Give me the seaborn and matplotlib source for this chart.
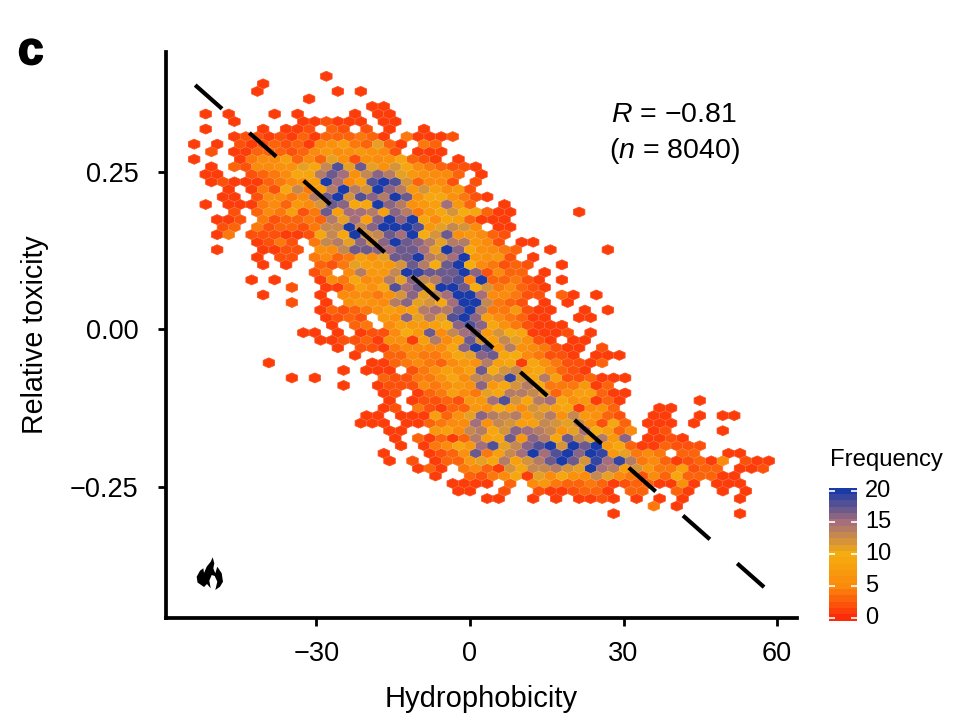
"""Relative toxicity vs hydrophobicity, hexagonal binned frequency (panel c)."""
import matplotlib
matplotlib.use("Agg")
import matplotlib.patheffects as pe
import matplotlib.pyplot as plt
import numpy as np
import seaborn as sns
from matplotlib.patches import Polygon
from matplotlib.transforms import ScaledTranslation

# hex grid: row k runs top to bottom, column c counts half hexagons (c + k is even)
X_ORIGIN = -28.07
X_HALF_STEP = 1.1227
Y_ORIGIN = 0.4019
Y_ROW_STEP = 0.01197

# first column of every row, then the counts of that row every second column
first_col = [
    0, -11, -12, -3, 8, -21, -16, -21, -16, -23,
    -20, -23, -20, -21, -20, -17, -18, -21, -16, -19,
    -18, -19, -12, -19, -12, -11, -2, -13, -6, -11,
    -6, -1, 0, 1, -4, -1, 2, 5, -10, 3,
    -6, 3, 10, 11, 10, 7, 6, 11, 12, 13,
    10, 11, 16, 19, 22, 23, 28, 57, 50,
]
counts_by_row = [
    [1],
    [1],
    [1, 0, 0, 0, 0, 0, 0, 1, 0, 1],
    [1],
    [1, 1],
    [1, 0, 1, 0, 0, 0, 1, 0, 1, 0, 0, 0, 0, 1, 0, 1, 1],
    [1, 0, 0, 0, 0, 0, 1, 1, 2, 1, 1, 1, 0, 1, 1],
    [1, 0, 0, 0, 0, 1, 0, 1, 1, 2, 0, 3, 2, 0, 2, 0, 1, 0, 0, 1],
    [1, 2, 2, 1, 2, 1, 3, 1, 3, 3, 3, 4, 3, 1, 0, 4, 1, 1, 1, 2],
    [1, 0, 1, 0, 2, 1, 2, 3, 2, 3, 1, 5, 6, 8, 4, 3, 11, 3, 1, 0, 4, 3],
    [2, 0, 1, 1, 3, 3, 3, 2, 3, 5, 7, 5, 6, 7, 6, 5, 2, 0, 1, 1, 1],
    [1, 0, 0, 0, 1, 4, 5, 5, 8, 3, 5, 3, 11, 6, 2, 6, 5, 6, 9, 3, 2, 1, 0, 1],
    [1, 0, 3, 2, 5, 5, 6, 6, 11, 9, 13, 18, 11, 17, 11, 6, 12, 9, 5, 4, 3, 2, 2, 1],
    [1, 1, 0, 0, 2, 3, 4, 5, 9, 9, 14, 17, 15, 6, 13, 16, 14, 11, 7, 6, 5, 5, 3, 0, 1],
    [1, 2, 1, 1, 1, 3, 4, 5, 6, 8, 20, 15, 5, 8, 18, 20, 18, 12, 3, 5, 5, 2, 0, 2],
    [1, 0, 1, 4, 2, 9, 13, 4, 8, 14, 20, 14, 12, 20, 16, 14, 7, 12, 8, 5, 7, 2],
    [1, 1, 0, 2, 5, 5, 4, 5, 14, 17, 20, 12, 18, 16, 14, 20, 17, 6, 9, 9, 6, 4, 2, 1],
    [1, 0, 1, 1, 1, 4, 5, 3, 7, 5, 12, 17, 16, 9, 9, 20, 16, 14, 6, 7, 8, 15, 7, 3, 0, 0, 1],
    [2, 0, 3, 5, 4, 8, 2, 4, 17, 8, 15, 15, 14, 8, 16, 14, 4, 7, 9, 12, 10, 9, 3, 1, 1,
     0, 0, 0, 0, 0, 1],
    [1, 1, 2, 0, 4, 2, 3, 3, 4, 3, 14, 11, 15, 8, 16, 20, 16, 20, 9, 5, 9, 8, 3, 1, 1, 1],
    [2, 3, 0, 4, 2, 3, 3, 2, 4, 13, 13, 20, 13, 16, 20, 20, 20, 18, 7, 11, 13, 12, 5, 0, 1, 1],
    [1, 4, 0, 2, 2, 2, 1, 1, 2, 9, 13, 9, 20, 12, 13, 17, 15, 20, 10, 12, 17, 6, 7, 5, 3, 2],
    [1, 2, 4, 2, 0, 4, 13, 14, 11, 16, 12, 16, 20, 17, 16, 14, 11, 14, 14, 7, 5, 2, 0, 1, 1],
    [1, 0, 0, 0, 1, 1, 2, 2, 0, 6, 5, 13, 17, 17, 16, 15, 17, 17, 15, 11, 20, 16, 9, 6, 5,
     4, 3, 0, 0, 1, 0, 0, 0, 0, 1],
    [1, 0, 2, 2, 0, 4, 5, 3, 4, 8, 6, 11, 17, 17, 20, 14, 13, 15, 20, 7, 6, 7, 2, 0, 1],
    [1, 0, 1, 0, 0, 3, 2, 4, 11, 8, 7, 7, 12, 17, 14, 10, 17, 20, 10, 5, 4, 2, 3, 2, 0, 0, 1],
    [2, 4, 0, 5, 14, 7, 7, 13, 20, 19, 17, 17, 17, 20, 16, 2, 5, 3, 3, 0, 1],
    [1, 0, 1, 0, 0, 0, 1, 5, 4, 9, 5, 6, 14, 11, 16, 13, 14, 17, 18, 5, 20, 3, 3, 4, 2, 1, 0, 1],
    [2, 0, 0, 1, 1, 4, 8, 6, 9, 18, 15, 17, 9, 20, 20, 17, 10, 12, 4, 5, 3, 2, 1],
    [1, 0, 0, 0, 0, 1, 0, 5, 5, 5, 4, 6, 12, 16, 11, 13, 15, 20, 20, 15, 5, 5, 4, 2, 2, 0, 3,
     1, 0, 1],
    [2, 0, 0, 1, 0, 6, 7, 6, 5, 14, 16, 11, 12, 9, 15, 20, 20, 13, 4, 3, 2, 0, 1, 0, 1],
    [1, 3, 2, 3, 4, 6, 8, 7, 8, 14, 15, 14, 17, 20, 14, 4, 4, 7, 2, 1, 1, 0, 0, 1, 0, 1],
    [1, 2, 3, 2, 0, 7, 6, 16, 11, 14, 11, 18, 20, 16, 8, 5, 4, 3, 1, 1, 0, 0, 1, 1],
    [1, 0, 3, 4, 0, 5, 8, 7, 7, 8, 10, 16, 18, 16, 9, 6, 4, 2, 1, 1, 1],
    [1, 1, 0, 1, 0, 1, 2, 2, 5, 10, 7, 17, 5, 13, 15, 16, 7, 12, 10, 9, 1, 1, 1, 2, 0, 1],
    [1, 1, 2, 2, 3, 1, 6, 6, 1, 8, 14, 5, 8, 17, 12, 8, 13, 11, 6, 2, 1, 0, 1, 1],
    [1, 0, 2, 2, 1, 4, 5, 5, 5, 5, 9, 16, 20, 18, 7, 14, 6, 5, 4, 2, 1, 1, 0, 2],
    [1, 0, 0, 3, 3, 5, 4, 4, 6, 9, 11, 16, 17, 9, 10, 5, 4, 2, 2, 1, 0, 1, 1, 1],
    [1, 0, 0, 0, 0, 0, 0, 0, 0, 1, 1, 3, 4, 5, 4, 3, 5, 7, 6, 14, 8, 9, 1, 9, 6, 4, 2, 2, 1, 3],
    [1, 0, 1, 1, 1, 0, 2, 4, 6, 8, 6, 8, 17, 10, 12, 13, 8, 9, 5, 3, 2, 1],
    [1, 0, 1, 0, 0, 0, 0, 0, 3, 2, 2, 4, 4, 6, 9, 5, 13, 13, 13, 19, 12, 9, 14, 8, 2, 2, 3, 1, 1, 1],
    [1, 0, 0, 1, 2, 2, 2, 5, 4, 5, 7, 6, 16, 7, 9, 12, 14, 10, 4, 4, 4, 7, 1, 3],
    [1, 2, 0, 1, 3, 4, 8, 5, 4, 11, 9, 14, 14, 13, 11, 3, 5, 8, 8, 3, 1, 1],
    [1, 0, 1, 2, 2, 3, 2, 7, 7, 15, 18, 12, 9, 14, 15, 9, 6, 7, 1, 3, 1, 0, 0, 0, 0, 0, 0, 1],
    [1, 2, 0, 4, 2, 1, 3, 3, 7, 6, 10, 8, 5, 12, 11, 8, 9, 1, 5, 6, 3, 0, 0, 0, 1, 1],
    [1, 1, 0, 1, 1, 1, 8, 3, 6, 11, 16, 14, 13, 14, 7, 12, 14, 6, 13, 7, 6, 3, 2, 0, 0, 1, 1,
     0, 0, 1, 0, 1, 1],
    [1, 1, 1, 0, 1, 1, 3, 4, 5, 5, 15, 6, 13, 12, 8, 8, 13, 12, 11, 13, 6, 2, 9, 3, 0, 1, 1, 1, 0, 1],
    [1, 1, 0, 0, 7, 8, 5, 13, 14, 9, 12, 16, 15, 14, 13, 6, 11, 15, 10, 8, 3, 5, 0, 1, 2,
     0, 0, 0, 0, 1],
    [1, 0, 3, 1, 3, 1, 3, 14, 8, 9, 17, 7, 16, 14, 9, 17, 13, 11, 14, 7, 16, 0, 1, 1, 2, 1],
    [1, 0, 1, 4, 5, 9, 7, 15, 18, 11, 13, 16, 18, 20, 12, 20, 17, 20, 7, 9, 3, 1, 1, 3, 2, 2, 2],
    [1, 0, 0, 0, 1, 2, 3, 6, 17, 4, 8, 13, 15, 20, 15, 18, 20, 16, 20, 19, 7, 11, 4, 5, 4, 0, 3, 3,
     0, 0, 1, 1],
    [1, 0, 2, 0, 1, 3, 3, 7, 11, 9, 14, 8, 12, 14, 17, 20, 17, 12, 19, 15, 19, 14, 4, 5, 3, 1, 2, 3,
     1, 5, 0, 2, 1, 1],
    [1, 3, 1, 0, 4, 5, 3, 1, 12, 9, 13, 13, 14, 12, 11, 20, 15, 14, 8, 12, 7, 4, 4, 8, 2, 3, 3,
     0, 1, 1, 2],
    [1, 0, 0, 3, 2, 4, 5, 9, 1, 11, 5, 9, 6, 5, 13, 11, 5, 4, 2, 5, 3, 9, 3, 3, 3, 1, 1],
    [1, 1, 1, 1, 0, 3, 0, 5, 7, 4, 3, 3, 4, 3, 1, 2, 3, 3, 1, 1, 6, 1, 0, 1, 1, 1],
    [1, 1, 0, 0, 2, 0, 0, 2, 1, 1, 2, 3, 3, 1, 0, 3, 3, 0, 0, 3, 1, 0, 0, 1, 0, 1],
    [1, 1, 0, 0, 1, 0, 1, 0, 1, 1, 2, 1, 0, 1, 0, 1, 0, 1, 0, 0, 0, 0, 1],
    [4, 0, 1],
    [1, 0, 0, 0, 0, 0, 0, 0, 0, 0, 0, 1],
]

x_ticks = [-30, 0, 30, 60]
y_ticks = [-0.25, 0.0, 0.25]
y_tick_labels = ["\u22120.25", "0.00", "0.25"]
legend_ticks = [0, 5, 10, 15, 20]

# fitted line, ends
line_x = [-53.7, 57.6]
line_y = [0.388, -0.41]

# colours at 0, 5, 10, 15, 20
scale_colors = ["#FC2B0A", "#FA8B0C", "#F5AC0E", "#A6707A", "#1A3AA8"]

W, H = 964, 726


def fig_box(left, top, right, bottom):
    return [left / W, 1 - bottom / H, (right - left) / W, (bottom - top) / H]


sns.set_theme(style="ticks")
plt.rcParams["font.family"] = ["Liberation Sans", "DejaVu Sans"]
plt.rcParams["text.color"] = "black"
plt.rcParams["mathtext.fontset"] = "custom"
plt.rcParams["mathtext.rm"] = "Liberation Sans"
plt.rcParams["mathtext.it"] = "Liberation Sans:italic"

cmap = sns.blend_palette(scale_colors, as_cmap=True)

xs, ys, cs = [], [], []
for k, (c0, row) in enumerate(zip(first_col, counts_by_row)):
    for i, v in enumerate(row):
        if v > 0:
            xs.append(X_ORIGIN + (c0 + 2 * i) * X_HALF_STEP)
            ys.append(Y_ORIGIN - k * Y_ROW_STEP)
            cs.append(v)

fig = plt.figure(figsize=(W / 100, H / 100), dpi=100, facecolor="white")
ax = fig.add_axes(fig_box(165.5, 52, 797, 618))

hex_args = dict(
    C=cs,
    gridsize=(51, 29),
    extent=(X_ORIGIN - 24 * X_HALF_STEP, X_ORIGIN + 78 * X_HALF_STEP,
            Y_ORIGIN - 58 * Y_ROW_STEP, Y_ORIGIN),
    reduce_C_function=np.sum,
    cmap=cmap, vmin=0, vmax=20,
)
# solid layer closes the antialiasing seams, the second one adds the faint light outline
ax.hexbin(xs, ys, linewidths=0.5, edgecolors="face", **hex_args)
ax.hexbin(xs, ys, linewidths=0.35, edgecolors=(1, 1, 1, 0.25), **hex_args)
ax.plot(line_x, line_y, color="black", lw=3.0, dashes=(8.6, 8.75), dash_capstyle="butt")

ax.set_xlim(-59.5, 63.9)
ax.set_ylim(-0.458, 0.4405)
ax.set_xticks(x_ticks, [str(t).replace("-", "\u2212") for t in x_ticks])
ax.set_yticks(y_ticks, y_tick_labels)
ax.tick_params(length=5.5, width=2, labelsize=19.5, color="black", labelcolor="black")
ax.tick_params(axis="x", pad=11)
ax.tick_params(axis="y", pad=14)
ax.set_xlabel("Hydrophobicity", fontsize=21, color="black", labelpad=13)
ax.set_ylabel("Relative toxicity", fontsize=20.6, color="black", labelpad=15)
sns.despine(ax=ax)
for side in ("left", "bottom"):
    ax.spines[side].set_linewidth(2.7)
    ax.spines[side].set_color("black")

fig.text(674 / W, 1 - 115.5 / H, "$\\mathit{R}$ = \u22120.81", fontsize=20.5, ha="center", va="center")
fig.text(674 / W, 1 - 151.5 / H, "($\\mathit{n}$ = 8040)", fontsize=20.5, ha="center", va="center")
panel = fig.text(18 / W, 1 - 52 / H, "c", fontsize=33, fontweight="bold", ha="left", va="center")
panel.set_path_effects([pe.withStroke(linewidth=1.4, foreground="black")])

# flame icon, outline in pixels of the figure
flame = [
    (204, 587), (197.5, 582.5), (196.7, 576.7), (200, 570.7), (203.3, 568.3), (204, 573),
    (206.7, 566.7), (210.7, 561.7), (212.7, 557.3), (214.3, 563.3), (213.3, 568.3),
    (215.3, 573.3), (217.3, 566.7), (221.7, 573.3), (223, 581.7), (220, 586.7), (215.3, 590),
    (217.3, 581.7), (214.7, 576), (211.7, 575), (209.3, 580.7), (210.7, 588.3), (207, 584),
]
fig.add_artist(Polygon([(px / W, 1 - py / H) for px, py in flame], closed=True,
                       facecolor="black", edgecolor="none", transform=fig.transFigure))

# colour legend
cax = fig.add_axes(fig_box(829.3, 487.7, 856.7, 620.7))
edges = np.linspace(-0.47, 20.47, 22)
levels = (edges[:-1] + edges[1:]) / 2
cax.pcolormesh([0, 1], edges, levels[:, None], cmap=cmap, vmin=0, vmax=20)
cax.hlines(legend_ticks, 0, 0.2, color="white", lw=1.2)
cax.hlines(legend_ticks, 0.8, 1, color="white", lw=1.2)
cax.set_xlim(0, 1)
cax.set_ylim(-0.47, 20.47)
cax.set_xticks([])
cax.yaxis.tick_right()
cax.set_yticks(legend_ticks, [str(t) for t in legend_ticks])
cax.tick_params(axis="y", length=0, labelsize=17, labelcolor="black", pad=6)
shift_up = ScaledTranslation(0, 2.5 / 100, fig.dpi_scale_trans)
for label in cax.get_yticklabels():
    label.set_transform(label.get_transform() + shift_up)
for spine in cax.spines.values():
    spine.set_visible(False)
fig.text(830 / W, 1 - 460 / H, "Frequency", fontsize=17.2, ha="left", va="center")

fig.savefig("out.png", dpi=100)
